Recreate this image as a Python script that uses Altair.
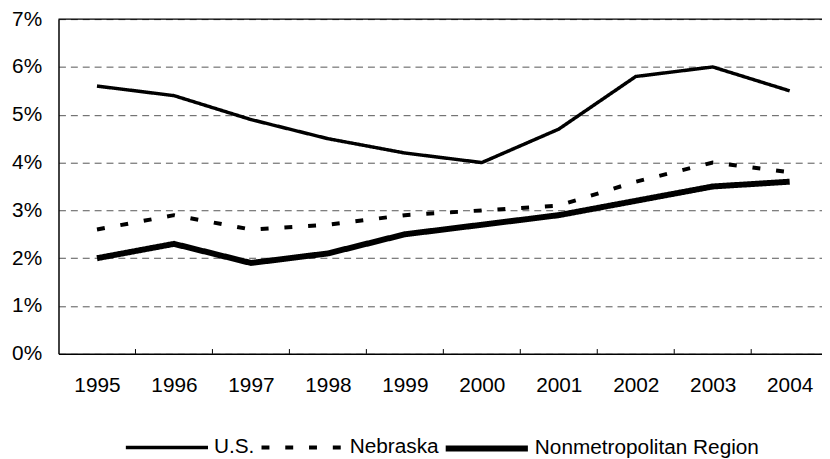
import altair as alt
import pandas as pd

years = [1995, 1996, 1997, 1998, 1999, 2000, 2001, 2002, 2003, 2004]
series_names = ["U.S.", "Nebraska", "Nonmetropolitan Region"]
us = [5.6, 5.4, 4.9, 4.5, 4.2, 4.0, 4.7, 5.8, 6.0, 5.5]
nebraska = [2.6, 2.9, 2.6, 2.7, 2.9, 3.0, 3.1, 3.6, 4.0, 3.8]
nonmetro = [2.0, 2.3, 1.9, 2.1, 2.5, 2.7, 2.9, 3.2, 3.5, 3.6]
y_ticks = [0, 0.01, 0.02, 0.03, 0.04, 0.05, 0.06, 0.07]
tick_marks = [1995.5, 1996.5, 1997.5, 1998.5, 1999.5, 2000.5, 2001.5, 2002.5, 2003.5]

FONT = "Liberation Sans"
FS = 21
x_scale = alt.Scale(domain=[1994.5, 2004.42], nice=False, zero=False)
y_scale = alt.Scale(domain=[0, 0.07], nice=False)

x_enc = alt.X("year:Q", scale=x_scale, title=None,
              axis=alt.Axis(values=years, format="d", ticks=False, tickSize=0,
                            labelPadding=21, grid=False, domainColor="black",
                            domainWidth=1.5, labelFontSize=FS, labelFont=FONT,
                            labelColor="black", labelFlush=False))
y_enc = alt.Y("rate:Q", scale=y_scale, title=None,
              axis=alt.Axis(values=y_ticks, format=".0%", ticks=False, tickSize=0,
                            labelPadding=17, grid=True, gridColor="#555555",
                            gridDash=[7, 5], gridWidth=1, domainColor="black",
                            domainWidth=1.5, labelFontSize=FS, labelFont=FONT,
                            labelColor="black"))

styles = {
    "U.S.": {"dash": [1, 0], "width": 3.5, "lx": 66},
    "Nebraska": {"dash": [8, 16], "width": 4, "lx": 203},
    "Nonmetropolitan Region": {"dash": [1, 0], "width": 6, "lx": 388},
}

layers = []
for name, vals in zip(series_names, [us, nebraska, nonmetro]):
    sdf = pd.DataFrame({"year": years, "rate": [v / 100.0 for v in vals],
                        "series": [name] * len(years)})
    st = styles[name]
    leg = alt.Legend(
        title=None, orient="none", legendX=st["lx"], legendY=389,
        direction="horizontal", symbolType="stroke", symbolSize=6889,
        symbolStrokeColor="black", symbolStrokeWidth=st["width"],
        labelFontSize=FS, labelFont=FONT, labelColor="black",
        labelOffset=4, padding=0, labelLimit=0,
    )
    layers.append(
        alt.Chart(sdf).mark_line(color="black", strokeWidth=st["width"]).encode(
            x=x_enc, y=y_enc,
            strokeDash=alt.StrokeDash("series:N",
                scale=alt.Scale(domain=[name], range=[st["dash"]]), legend=leg),
            order=alt.Order("year:Q"),
        )
    )

top_rule = alt.Chart(pd.DataFrame({"v": [0.07]})).mark_rule(
    color="black", strokeWidth=1.5).encode(y=alt.Y("v:Q", scale=y_scale))

ticks_df = pd.DataFrame({"t": tick_marks, "y0": [0.0] * len(tick_marks),
                         "y1": [0.001] * len(tick_marks)})
tick_rules = alt.Chart(ticks_df).mark_rule(color="black", strokeWidth=1).encode(
    x=alt.X("t:Q", scale=x_scale),
    y=alt.Y("y0:Q", scale=y_scale),
    y2="y1:Q",
)

chart = alt.layer(*layers, top_rule, tick_rules).resolve_scale(
    strokeDash="independent"
).resolve_legend(strokeDash="independent").properties(
    width=771, height=338,
    autosize=alt.AutoSizeParams(type="none"),
    padding={"left": 51, "top": 9, "right": 0, "bottom": 108},
    background="white",
).configure_view(stroke=None)

chart.save("out.html", embed_options={"renderer": "svg", "actions": False})
